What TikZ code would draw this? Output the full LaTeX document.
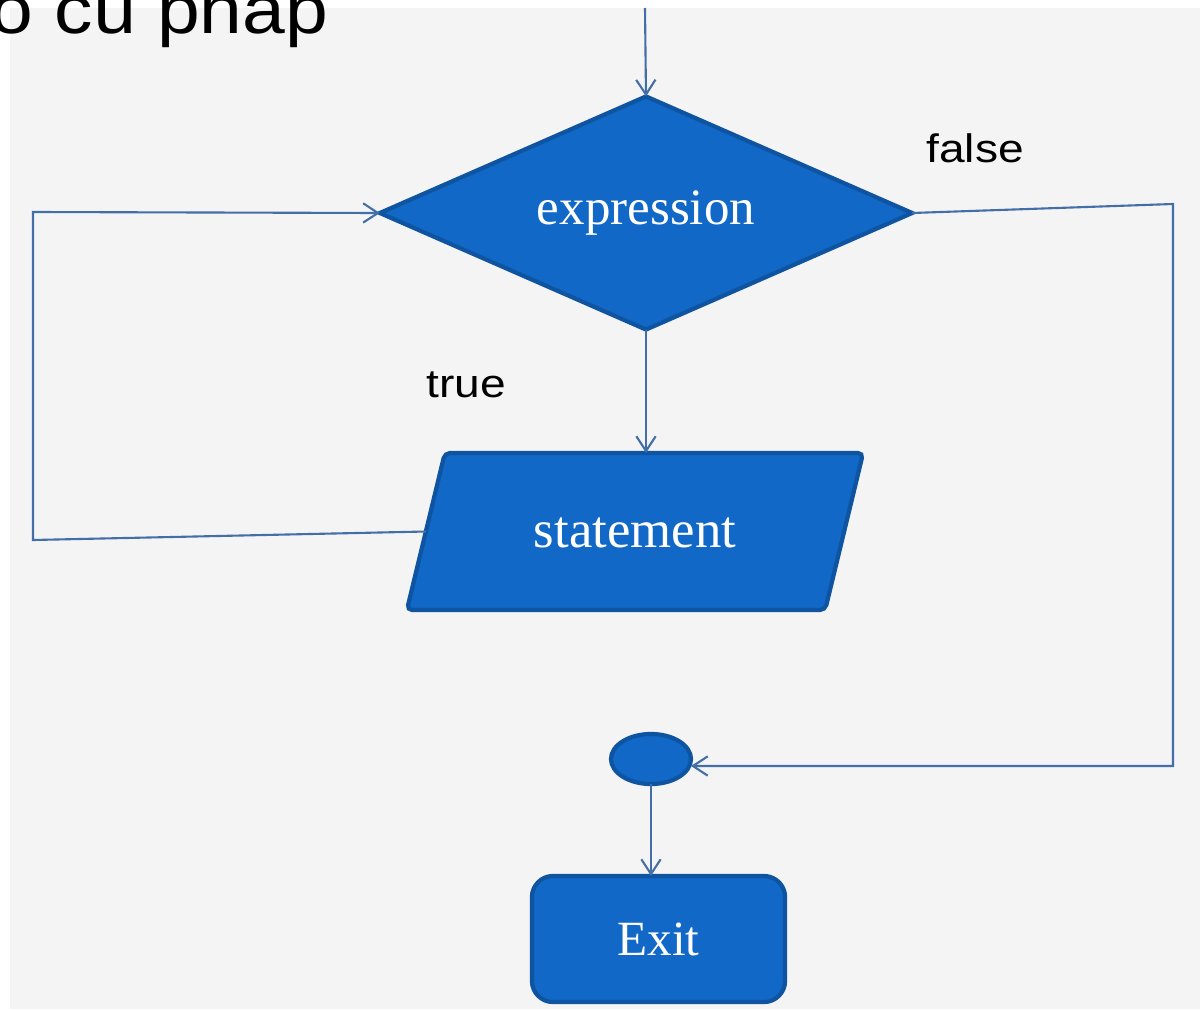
\documentclass[tikz,border=0pt]{standalone}
\usepackage{fontspec}
\setmainfont{Liberation Serif}
\newfontfamily\labfont{Liberation Sans}
\usetikzlibrary{shapes.geometric,arrows.meta}
\definecolor{bgc}{RGB}{244,244,244}
\definecolor{boxfill}{RGB}{18,104,198}
\definecolor{boxline}{RGB}{14,84,160}
\definecolor{conn}{RGB}{68,110,168}
\tikzset{
  shapebox/.style={fill=boxfill, draw=boxline, line width=1.2pt, inner sep=0pt, outer sep=0pt, text=white, font=\fontsize{14.5}{16}\selectfont},
  link/.style={draw=conn, line width=0.6pt},
  linkarrow/.style={link, -{Straight Barb[length=4.2pt,width=5.5pt]}},
  lbl/.style={font=\labfont\fontsize{11.3}{13}\selectfont, xscale=1.16, inner sep=0pt}
}
\begin{document}
\begin{tikzpicture}[x=0.01cm,y=-0.01cm]
\useasboundingbox (0,0) rectangle (1200,1009);
\clip (0,0) rectangle (1200,1009);
\fill[white] (0,0) rectangle (1200,1009);
\fill[bgc] (10,8) rectangle (1200,1009);
% title (cut off at top)
\node[font=\labfont\fontsize{19.5}{22}\selectfont, xscale=1.12, anchor=base west, inner sep=0pt] (title) at (-10,33) {ồ cú pháp};
% nodes
\node[shapebox, diamond, aspect=2.28, minimum width=5.32cm, minimum height=2.33cm] (dia) at (646,213) {expression};
\node[shapebox, trapezium, trapezium left angle=76.4, trapezium right angle=103.6, trapezium stretches body=true, text height=0.94cm, text depth=0.63cm, minimum width=4.56cm, rounded corners=1.5pt, font=\fontsize{15}{17}\selectfont] (stmt) at (635,531.5) {statement};
\node[shapebox, ellipse, minimum width=0.8cm, minimum height=0.5cm] (ell) at (651,759) {};
\node[shapebox, rectangle, rounded corners=6pt, minimum width=2.53cm, minimum height=1.26cm, font=\fontsize{14}{16}\selectfont] (exit) at (658.5,939) {Exit};
% labels
\node[lbl] (lfalse) at (975,148) {false};
\node[lbl] (ltrue) at (466,385) {true};
% coordinates
\coordinate (topin) at (645,8);
\coordinate (cl1) at (33,540);
\coordinate (cl2) at (33,212);
\coordinate (cr1) at (1173,204);
\coordinate (cr2) at (1173,766);
% connectors
\draw[linkarrow] (topin) -- (dia.north);
\draw[linkarrow] (dia.south) -- (dia.south |- stmt.north);
\draw[linkarrow] (stmt.west) -- (cl1) -- (cl2) -- (dia.west);
\draw[linkarrow] (dia.east) -- (cr1) -- (cr2) -- (cr2 -| ell.east);
\draw[linkarrow] (ell.south) -- (ell.south |- exit.north);
\end{tikzpicture}
\end{document}
